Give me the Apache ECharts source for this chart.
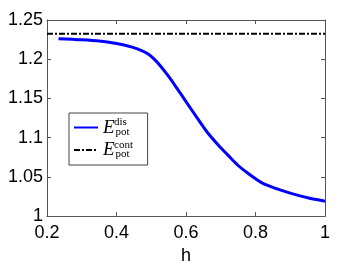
<!DOCTYPE html>
<html>
<head>
<meta charset="utf-8">
<script src="https://cdn.jsdelivr.net/npm/echarts@6/dist/echarts.min.js"></script>
<style>html,body{margin:0;padding:0;background:#fff}#c{width:359px;height:270px}</style>
</head>
<body>
<div id="c"></div>
<script>
var hValues = [0.233, 0.3, 0.35, 0.4, 0.43, 0.46, 0.49, 0.51, 0.53, 0.55, 0.57, 0.6, 0.63, 0.66, 0.69, 0.72, 0.75, 0.78, 0.82, 0.86, 0.9, 0.95, 1.0];
var eDis = [1.2261, 1.2247, 1.2231, 1.2200, 1.2172, 1.2132, 1.2070, 1.1995, 1.1895, 1.1780, 1.1655, 1.1460, 1.1265, 1.1075, 1.0920, 1.0780, 1.0645, 1.0540, 1.0420, 1.0350, 1.0293, 1.0233, 1.0190];
var contX = [0.2, 1.0];
var eCont = [1.2325, 1.2325];
var seriesNames = ['dis', 'cont'];

var chart = echarts.init(document.getElementById('c'), null, {renderer: 'canvas'});
var axisCol = '#555';
var labelFont = {color: '#000', fontSize: 18, fontFamily: 'Liberation Sans'};
chart.setOption({
  animation: false,
  grid: {left: 47, right: 34, top: 20, bottom: 44},
  xAxis: [{
    type: 'value', min: 0.2, max: 1, interval: 0.2,
    name: 'h', nameLocation: 'middle', nameGap: 22,
    nameTextStyle: {color: '#000', fontSize: 18, fontFamily: 'Liberation Sans', verticalAlign: 'top'},
    axisLine: {show: true, lineStyle: {color: axisCol, width: 1}},
    axisTick: {show: true, inside: true, length: 4, lineStyle: {color: axisCol}},
    axisLabel: Object.assign({margin: 8}, labelFont),
    splitLine: {show: false}
  }, {
    type: 'value', min: 0.2, max: 1, interval: 0.2, position: 'top',
    axisLine: {show: true, lineStyle: {color: axisCol, width: 1}},
    axisTick: {show: true, inside: true, length: 4, lineStyle: {color: axisCol}},
    axisLabel: {show: false}, splitLine: {show: false}
  }],
  yAxis: [{
    type: 'value', min: 1, max: 1.25, interval: 0.05,
    axisLine: {show: true, lineStyle: {color: axisCol, width: 1}},
    axisTick: {show: true, inside: true, length: 4, lineStyle: {color: axisCol}},
    axisLabel: Object.assign({margin: 4}, labelFont),
    splitLine: {show: false}
  }, {
    type: 'value', min: 1, max: 1.25, interval: 0.05, position: 'right',
    axisLine: {show: true, lineStyle: {color: axisCol, width: 1}},
    axisTick: {show: true, inside: true, length: 4, lineStyle: {color: axisCol}},
    axisLabel: {show: false}, splitLine: {show: false}
  }],
  legend: {
    orient: 'vertical', left: 69, top: 113,
    padding: [5, 6, 5, 4], itemGap: 3,
    itemWidth: 24, itemHeight: 14,
    borderColor: '#444', borderWidth: 1, backgroundColor: '#fff',
    itemStyle: {opacity: 0},
    data: seriesNames,
    formatter: function () { return '{e|E}{s|pot}'; },
    textStyle: {
      rich: {
        e: {fontFamily: 'Liberation Serif', fontStyle: 'italic', fontSize: 19, lineHeight: 20, color: '#000'},
        s: {fontFamily: 'Liberation Serif', fontSize: 11, lineHeight: 20, width: 26, color: '#000', verticalAlign: 'bottom', padding: [0, 0, 0, 1]}
      }
    }
  },
  graphic: [
    {type: 'text', left: 114, top: 117, style: {text: 'dis', font: '11px "Liberation Serif"', fill: '#000'}, z: 100},
    {type: 'text', left: 114, top: 140, style: {text: 'cont', font: '11px "Liberation Serif"', fill: '#000'}, z: 100}
  ],
  series: [{
    name: 'dis', type: 'line', showSymbol: false, symbol: 'none', smooth: 0.3,
    data: hValues.map(function (h, i) { return [h, eDis[i]]; }),
    lineStyle: {color: '#0000ff', width: 3}, itemStyle: {color: '#0000ff'}
  }, {
    name: 'cont', type: 'line', showSymbol: false, symbol: 'none',
    data: contX.map(function (h, i) { return [h, eCont[i]]; }),
    lineStyle: {color: '#000', width: 2, type: [6, 2, 2, 2]}, itemStyle: {color: '#000'}
  }]
});
</script>
</body>
</html>
